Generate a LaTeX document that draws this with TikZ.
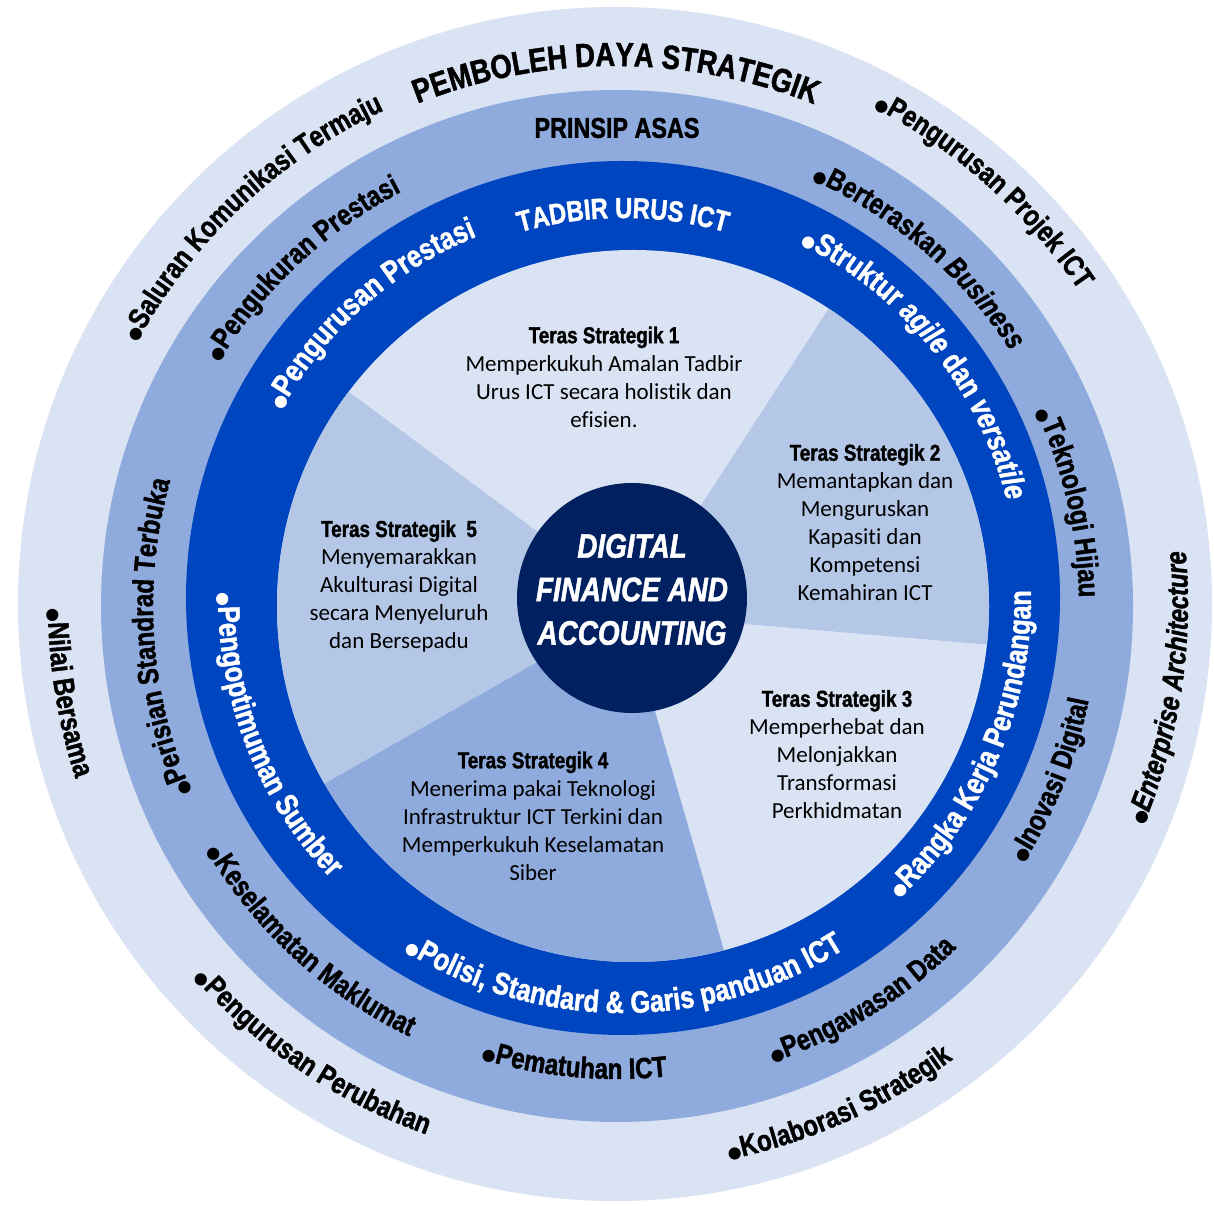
\documentclass[tikz,border=0pt]{standalone}
\usepackage{fontspec}
\setmainfont{Carlito}[Ligatures=NoCommon]
\newfontfamily\cnd[FakeStretch=0.82,FakeBold=1.4]{Liberation Sans}
\newfontfamily\dvs{DejaVu Sans}
\usetikzlibrary{decorations.text,calc}
\definecolor{cOuter}{HTML}{DAE3F3}
\definecolor{cMid}{HTML}{8FAADC}
\definecolor{cDark}{HTML}{0045C0}
\definecolor{cSlice}{HTML}{B4C7E7}
\definecolor{cNavy}{HTML}{002060}
\newcommand\fRing{\cnd\bfseries\fontsize{29.3}{30}\selectfont}
\newcommand\fRingI{\cnd\bfseries\itshape\fontsize{29.3}{30}\selectfont}
\newcommand\fWhite{\cnd\bfseries\fontsize{31}{32}\selectfont}
\newcommand\fWhiteI{\cnd\bfseries\itshape\fontsize{31}{32}\selectfont}
\newcommand\fTadbir{\cnd\bfseries\fontsize{29}{30}\selectfont}
\newcommand\fTitle{\cnd\bfseries\fontsize{33.4}{34}\selectfont}
\newcommand\fHead{\cnd\bfseries\fontsize{23}{28}\selectfont}
\newcommand\fBody{\fontsize{23}{28}\selectfont}
\newcommand\fBul{\dvs\fontsize{16}{16}\selectfont}
% plain curved text
\newcommand\cwtext[5]{\path[decorate,decoration={text along path,text align=center,text color=#4,text={#5}}] ($(#1)+(#3+50:#2)$) arc[start angle=#3+50,end angle=#3-50,radius=#2];}
% bulleted curved text: center, radius, mid angle, colour, font, text
\newcommand\bcw[6]{\path[decorate,decoration={text along path,text align=center,text color=#4,text={|\fBul|●|#5|#6}}] ($(#1)+(#3+50:#2)$) arc[start angle=#3+50,end angle=#3-50,radius=#2];}
\newcommand\bccw[6]{\path[decorate,decoration={text along path,text align=center,text color=#4,text={|\fBul|●|#5|#6}}] ($(#1)+(#3-50:#2)$) arc[start angle=#3-50,end angle=#3+50,radius=#2];}
\begin{document}
\begin{tikzpicture}[x=1pt,y=1pt]
\useasboundingbox (0,0) rectangle (1214,1205);
\fill[white] (0,0) rectangle (1214,1205);
\coordinate (co) at (615,601);
\coordinate (cm) at (617,599);
\coordinate (cd) at (623,607);
\coordinate (ci) at (633,599);
\coordinate (cc) at (632,607);
\coordinate (b12i) at (638,602.5);
\coordinate (b12f) at (894,997);
\coordinate (b15i) at (626.5,607.5);
\coordinate (b15f) at (256.5,881.5);
\coordinate (b54i) at (630,596);
\coordinate (b54f) at (193,346);
\coordinate (b43i) at (623,605);
\coordinate (b43f) at (742,192);
\coordinate (b32i) at (633,590.5);
\coordinate (b32f) at (1081,552.5);
% rings
\fill[cOuter] (co) circle[radius=597];
\fill[cMid] (cm) circle[radius=516];
\fill[cDark] (cd) circle[radius=437];
\fill[cOuter] (ci) circle[radius=356];
\begin{scope}
\clip (ci) circle[radius=356];
\fill[cSlice] (b32i) -- (b32f) -- ($(cc)+(26:800)$) -- (b12f) -- (b12i) -- cycle;
\fill[cSlice] (b15i) -- (b15f) -- ($(cc)+(177:800)$) -- (b54f) -- (b54i) -- cycle;
\fill[cMid] (b54i) -- (b54f) -- ($(cc)+(248:800)$) -- (b43f) -- (b43i) -- cycle;
\end{scope}
\node[circle,fill=cNavy,minimum size=230,inner sep=0] (hub) at (cc) {};
\node[font=\cnd\bfseries\itshape\fontsize{34}{43.5}\selectfont,text=white,align=center,inner sep=0] (core) at (632,615.5) {DIGITAL\\FINANCE AND\\ACCOUNTING};
% slice texts
\node[font=\fBody,align=center,inner sep=0] (t1) at (604,828) {{\fHead Teras Strategik 1}\\Memperkukuh Amalan Tadbir\\Urus ICT secara holistik dan\\efisien.};
\node[font=\fBody,align=center,inner sep=0] (t2) at (865,682.5) {{\fHead Teras Strategik 2}\\Memantapkan dan\\Menguruskan\\Kapasiti dan\\Kompetensi\\Kemahiran ICT};
\node[font=\fBody,align=center,inner sep=0] (t3) at (837,450.5) {{\fHead Teras Strategik 3}\\Memperhebat dan\\Melonjakkan\\Transformasi\\Perkhidmatan};
\node[font=\fBody,align=center,inner sep=0] (t4) at (533,389) {{\fHead Teras Strategik 4}\\Menerima pakai Teknologi\\Infrastruktur ICT Terkini dan\\Memperkukuh Keselamatan\\Siber};
\node[font=\fBody,align=center,inner sep=0] (t5) at (399,618.5) {{\fHead Teras Strategik\ \ 5}\\Menyemarakkan\\Akulturasi Digital\\secara Menyeluruh\\dan Bersepadu};
% outer ring
\cwtext{co}{538}{89.9}{black}{|\fTitle|PEMBOLEH DAYA STRATEGIK}
\bcw{co}{545}{133.2}{black}{\fRing}{Saluran Komunikasi Termaju}
\bcw{co}{560}{48.3}{black}{\fRing}{Pengurusan Projek ICT}
\bccw{co}{567}{189.2}{black}{\fRing}{Nilai Bersama}
\bccw{co}{573}{-8.7}{black}{\fRingI}{Enterprise Architecture}
\bccw{co}{563}{236}{black}{\fRing}{Pengurusan Perubahan}
\bccw{co}{567}{-65.9}{black}{\fRing}{Kolaborasi Strategik}
% middle ring
\node[font=\cnd\bfseries\fontsize{28.5}{30}\selectfont,inner sep=0] (prinsip) at (617,1077) {PRINSIP ASAS};
\bcw{cm}{467}{133}{black}{\fRing}{Pengukuran Prestasi}
\bcw{cm}{469}{49.2}{black}{\fRing}{Berteraskan |\fRingI|Business}
\bcw{cm}{462}{13}{black}{\fRing}{Teknologi Hijau}
\bccw{cm}{481}{-21.8}{black}{\fRing}{Inovasi Digital}
\bcw{cm}{464}{184}{black}{\fRing}{Perisian Standrad Terbuka}
\bccw{cm}{478}{227.5}{black}{\fRing}{Keselamatan Maklumat}
\bccw{cm}{473}{264.7}{black}{\fRing}{Pematuhan ICT}
\bccw{cm}{482}{-58.2}{black}{\fRing}{Pengawasan Data}
% dark ring
\cwtext{cd}{380}{90}{white}{|\fTadbir|TADBIR URUS ICT}
\bcw{cd}{390}{131.6}{white}{\fWhite}{Pengurusan Prestasi}
\bcw{cd}{396}{38.8}{white}{\fWhite}{Struktur |\fWhiteI|agile|\fWhite| dan |\fWhiteI|versatile}
\bccw{cd}{405}{201.5}{white}{\fWhite}{Pengoptimuman Sumber}
\bccw{cd}{415}{270.2}{white}{\fWhite}{Polisi, Standard {\&} Garis panduan ICT}
\bccw{cd}{408}{-23.2}{white}{\fWhite}{Rangka Kerja Perundangan}
\end{tikzpicture}
\end{document}
